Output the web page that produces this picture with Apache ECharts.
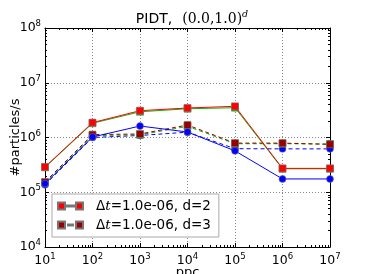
<!DOCTYPE html>
<html>
<head>
<meta charset="utf-8">
<script src="https://cdn.jsdelivr.net/npm/echarts@6/dist/echarts.min.js"></script>
<style>html,body{margin:0;padding:0;background:#fff}#c{width:366px;height:274px}</style>
</head>
<body>
<div id="c"></div>
<script>
// ---- data ----
const ppc = [10, 100, 1e3, 1e4, 1e5, 1e6, 1e7];
const d2Red   = [2.9e5, 1.87e6, 3.09e6, 3.46e6, 3.71e6, 2.73e5, 2.73e5];
const d2Green = [2.85e5, 1.82e6, 2.95e6, 3.35e6, 3.5e6, 2.68e5, 2.68e5];
const d2Blue  = [1.44e5, 1.02e6, 1.62e6, 1.26e6, 5.7e5, 1.75e5, 1.75e5];
const d3Red   = [1.54e5, 1.13e6, 1.16e6, 1.69e6, 7.9e5, 7.9e5, 7.5e5];
const d3Green = [1.5e5, 1.08e6, 1.12e6, 1.6e6, 7.7e5, 7.7e5, 7.6e5];
const d3Blue  = [1.37e5, 1.0e6, 1.09e6, 1.25e6, 6.25e5, 6.2e5, 6.2e5];
const xDecades = [1, 2, 3, 4, 5, 6, 7];
const yDecades = [4, 5, 6, 7, 8];
const legendNames = ['\u0394t=1.0e-06, d=2', '\u0394t=1.0e-06, d=3'];

function minorVals(decs) {
  const out = [];
  for (let i = 0; i < decs.length - 1; i++)
    for (let k = 2; k <= 9; k++) out.push(decs[i] + Math.log10(k));
  return out;
}
const pair = a => ppc.map((x, i) => [x, a[i]]);

const FONT = 'DejaVu Sans';
const supLabel = {
  formatter: v => '{b|10}{s|' + Math.round(Math.log10(v)) + '}',
  rich: {
    b: { fontSize: 12.5, fontFamily: FONT, color: '#000' },
    s: { fontSize: 8.5, fontFamily: FONT, color: '#000', verticalAlign: 'bottom', padding: [0, 0, 8, 0] }
  }
};
const frameLine = { show: true, lineStyle: { color: '#000', width: 1 } };

const chart = echarts.init(document.getElementById('c'), null, { renderer: 'canvas' });

function series(name, data, color, symbol, dashed, z) {
  return {
    name, type: 'line', data: pair(data), xAxisIndex: 0, yAxisIndex: 0,
    symbol, symbolSize: 7, z,
    lineStyle: { color, width: 1, type: dashed ? [4, 3] : 'solid' },
    itemStyle: { color, borderColor: '#777', borderWidth: 0.6 },
    emphasis: { disabled: true }, animation: false
  };
}

chart.setOption({
  animation: false,
  title: {
    text: '{a|PIDT,}  {b|(0.0,1.0)}{c|d}',
    left: 187, top: 5, textAlign: 'center',
    textStyle: {
      fontWeight: 'normal',
      rich: {
        a: { fontSize: 14, fontFamily: FONT, fontWeight: 'normal', color: '#000' },
        b: { fontSize: 14, fontFamily: 'DejaVu Serif', fontWeight: 'normal', color: '#000' },
        c: { fontSize: 9.5, fontFamily: 'DejaVu Serif', fontWeight: 'normal', fontStyle: 'italic', color: '#000', verticalAlign: 'bottom', padding: [0, 0, 9, 0] }
      }
    }
  },
  grid: { left: 45, right: 36, top: 28, bottom: 27, containLabel: false, outerBoundsMode: 'none' },
  legend: {
    data: legendNames.map((n, i) => ({
      name: n,
      icon: i === 0 ? 'path://M0,0H7V7H0Z M7,3H18V4H7Z M18,0H25V7H18Z'
                    : 'path://M0,0H7V7H0Z M10,3H15V4H10Z M18,0H25V7H18Z'
    })),
    orient: 'vertical', left: 52, top: 194,
    itemWidth: 25, itemHeight: 7, itemGap: 5,
    padding: [5, 8, 5, 5],
    backgroundColor: '#fff', borderColor: '#aaa', borderWidth: 1, borderRadius: 0,
    formatter: n => '{d|\u0394}{t|t}{d|' + n.slice(2) + '}',
    textStyle: {
      padding: [0, 0, 0, 8],
      rich: {
        d: { fontSize: 13.5, fontFamily: FONT, color: '#000' },
        t: { fontSize: 13.5, fontFamily: 'DejaVu Serif', fontStyle: 'italic', color: '#000' }
      }
    },
    selectedMode: false
  },
  xAxis: [
    { type: 'log', logBase: 10, min: 10, max: 1e7, position: 'bottom',
      name: 'ppc', nameLocation: 'middle', nameGap: 19, nameMoveOverlap: false,
      nameTextStyle: { fontSize: 13, fontFamily: FONT, color: '#000' },
      axisLine: frameLine,
      axisTick: { show: true, inside: true, length: 4, lineStyle: { color: '#000' } },
      axisLabel: Object.assign({ margin: 5 }, supLabel),
      splitLine: { show: true, lineStyle: { color: '#888', type: [1, 2], width: 1 } } },
    { type: 'log', logBase: 10, min: 10, max: 1e7, position: 'top',
      axisLine: frameLine,
      axisTick: { show: true, inside: true, length: 4, lineStyle: { color: '#000' } },
      axisLabel: { show: false }, splitLine: { show: false } },
    { type: 'value', min: 1, max: 7, position: 'bottom',
      axisLine: { show: false }, axisLabel: { show: false }, splitLine: { show: false },
      axisTick: { show: true, inside: true, length: 2, customValues: minorVals(xDecades), lineStyle: { color: '#000' } } },
    { type: 'value', min: 1, max: 7, position: 'top',
      axisLine: { show: false }, axisLabel: { show: false }, splitLine: { show: false },
      axisTick: { show: true, inside: true, length: 2, customValues: minorVals(xDecades), lineStyle: { color: '#000' } } }
  ],
  yAxis: [
    { type: 'log', logBase: 10, min: 1e4, max: 1e8, position: 'left',
      name: '#particles/s', nameLocation: 'middle', nameGap: 23, nameRotate: 90, nameMoveOverlap: false,
      nameTextStyle: { fontSize: 13, fontFamily: FONT, color: '#000' },
      axisLine: frameLine,
      axisTick: { show: true, inside: true, length: 4, lineStyle: { color: '#000' } },
      axisLabel: Object.assign({ margin: 4 }, supLabel),
      splitLine: { show: true, lineStyle: { color: '#888', type: [1, 2], width: 1 } } },
    { type: 'log', logBase: 10, min: 1e4, max: 1e8, position: 'right',
      axisLine: frameLine,
      axisTick: { show: true, inside: true, length: 4, lineStyle: { color: '#000' } },
      axisLabel: { show: false }, splitLine: { show: false } },
    { type: 'value', min: 4, max: 8, position: 'left',
      axisLine: { show: false }, axisLabel: { show: false }, splitLine: { show: false },
      axisTick: { show: true, inside: true, length: 2, customValues: minorVals(yDecades), lineStyle: { color: '#000' } } },
    { type: 'value', min: 4, max: 8, position: 'right',
      axisLine: { show: false }, axisLabel: { show: false }, splitLine: { show: false },
      axisTick: { show: true, inside: true, length: 2, customValues: minorVals(yDecades), lineStyle: { color: '#000' } } }
  ],
  series: [
    series('d3blue', d3Blue, '#0000ff', 'circle', true, 2),
    series('d3green', d3Green, '#00bb00', 'rect', true, 2),
    series(legendNames[1], d3Red, '#990000', 'rect', true, 3),
    series('d2blue', d2Blue, '#0000ff', 'circle', false, 4),
    series('d2green', d2Green, '#00bb00', 'rect', false, 4),
    series(legendNames[0], d2Red, '#ff0000', 'rect', false, 5)
  ]
});
</script>
</body>
</html>
